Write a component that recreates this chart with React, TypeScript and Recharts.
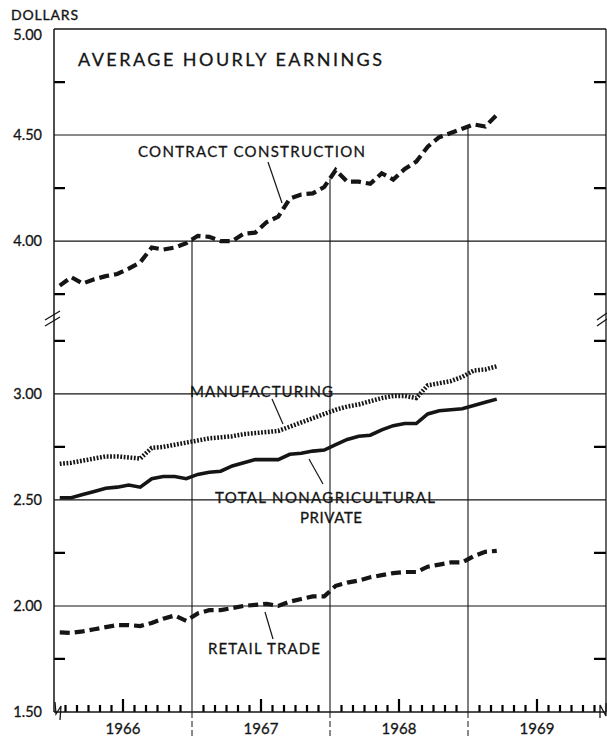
import { LineChart, Line, XAxis, YAxis, ReferenceLine } from "recharts";

// monthly averages, Jan 1966 - Mar 1969
const years = ["1966", "1967", "1968", "1969"];
const monthNames = ["Jan", "Feb", "Mar", "Apr", "May", "Jun", "Jul", "Aug", "Sep", "Oct", "Nov", "Dec"];

const contractConstruction = [
  3.79, 3.83, 3.8, 3.82, 3.835, 3.845, 3.87, 3.9, 3.97, 3.96, 3.97, 3.99,
  4.025, 4.02, 4.0, 4.0, 4.035, 4.04, 4.09, 4.115, 4.2, 4.22, 4.225, 4.255,
  4.335, 4.28, 4.28, 4.27, 4.32, 4.29, 4.34, 4.375, 4.445, 4.49, 4.51, 4.53,
  4.55, 4.54, 4.595,
];
const manufacturing = [
  2.67, 2.675, 2.685, 2.695, 2.705, 2.705, 2.7, 2.695, 2.745, 2.75, 2.76, 2.77,
  2.78, 2.79, 2.795, 2.8, 2.81, 2.815, 2.82, 2.825, 2.845, 2.865, 2.885, 2.905,
  2.925, 2.94, 2.95, 2.965, 2.98, 2.99, 2.99, 2.98, 3.04, 3.05, 3.06, 3.08,
  3.11, 3.115, 3.13,
];
const totalPrivate = [
  2.51, 2.51, 2.525, 2.54, 2.555, 2.56, 2.57, 2.56, 2.6, 2.61, 2.61, 2.6,
  2.62, 2.63, 2.635, 2.66, 2.675, 2.69, 2.69, 2.69, 2.715, 2.72, 2.73, 2.735,
  2.76, 2.785, 2.8, 2.805, 2.83, 2.85, 2.86, 2.86, 2.905, 2.92, 2.925, 2.93,
  2.945, 2.96, 2.975,
];
const retailTrade = [
  1.875, 1.873, 1.88, 1.89, 1.9, 1.91, 1.91, 1.905, 1.92, 1.94, 1.955, 1.93,
  1.965, 1.98, 1.98, 1.99, 2.0, 2.005, 2.01, 2.0, 2.02, 2.033, 2.045, 2.045,
  2.095, 2.11, 2.12, 2.135, 2.145, 2.155, 2.16, 2.16, 2.185, 2.195, 2.205, 2.205,
  2.235, 2.255, 2.26,
];

const majorTicks = [1.5, 2.0, 2.5, 3.0, 4.0, 4.5, 5.0];
const minorTicks = [1.75, 2.25, 2.75, 3.25, 3.75, 4.25, 4.75];

// broken scale: values above the break are pulled down by GAP
const GAP = 0.28;
const toPlot = (v: number) => (v >= 3.5 ? v - GAP : v);
const fromPlot = (p: number) => (p >= 3.36 ? p + GAP : p);

const W = 607;
const H = 736;
const TOP = 29;
const PL = 54;
const PR = 606;
const AXIS_Y = 712;
const FONT = "Lato, 'Noto Sans', sans-serif";
const INK = "#151515";
const NMONTHS = years.length * 12;
const Y_MIN = 1.5;
const Y_MAX = toPlot(5);
// pixel position of an axis value, for the small tick marks only
const yPx = (v: number) => AXIS_Y - ((toPlot(v) - Y_MIN) / (Y_MAX - Y_MIN)) * (AXIS_Y - TOP);
const xPx = (i: number) => PL + (i / NMONTHS) * (PR - PL);

const months = years.flatMap((y) => monthNames.map((m) => `${m} ${y}`)).slice(0, contractConstruction.length);

const data = months.map((m, i) => ({
  month: m,
  pos: i + 0.5,
  contract: toPlot(contractConstruction[i]),
  mfg: toPlot(manufacturing[i]),
  total: toPlot(totalPrivate[i]),
  retail: toPlot(retailTrade[i]),
}));

const yTicks = majorTicks.map(toPlot);
const xTicks = Array.from({ length: NMONTHS + 1 }, (_, i) => i);

const YTick = (props: any) => {
  const { y, payload } = props;
  const real = Math.round(fromPlot(payload.value) * 100) / 100;
  const ty = real === 5 ? y + 11 : y + 5;
  return (
    <text x={42} y={ty} textAnchor="end" fontFamily={FONT} fontSize={14.5} fill={INK} stroke={INK} strokeWidth={0.3}>
      {real.toFixed(2)}
    </text>
  );
};

const XTick = (props: any) => {
  const { x, payload } = props;
  const i = payload.value as number;
  const m = i % 12;
  if (i === 0 || i === NMONTHS) return <g />;
  return (
    <g>
      {m === 0 && (
        <line x1={x} x2={x} y1={AXIS_Y} y2={H} stroke={INK} strokeWidth={1} strokeDasharray="6 3" />
      )}
      {m === 6 && (
        <text x={x} y={734} textAnchor="middle" fontFamily={FONT} fontSize={15} fill={INK} stroke={INK} strokeWidth={0.3}>
          {years[(i - 6) / 12]}
        </text>
      )}
    </g>
  );
};

const Label = ({ x, y, w, children }: { x: number; y: number; w: number; children: string }) => (
  <text x={x} y={y} fontFamily={FONT} fontSize={15} fill={INK} stroke={INK} strokeWidth={0.3} textLength={w} lengthAdjust="spacing">
    {children}
  </text>
);

function Ticks() {
  const monthTicks = xTicks.filter((i) => i > 0 && i < NMONTHS && i % 12 !== 0);
  const d =
    minorTicks.map((v) => `M${PL},${yPx(v)}h11M${PR - 12},${yPx(v)}h12`).join("") +
    monthTicks.map((i) => `M${xPx(i)},${AXIS_Y}v-${i % 12 === 6 ? 13 : 7}`).join("");
  return <path d={d} stroke="#000" strokeWidth={2.2} fill="none" />;
}

function Notes() {
  return (
    <g>
      <rect x={183} y={382} width={155} height={19} fill="#fff" />
      <rect x={204} y={488} width={242} height={18} fill="#fff" />
      <rect x={296} y={508} width={70} height={19} fill="#fff" />
      <text x={11} y={20} fontFamily={FONT} fontSize={14} fill={INK} stroke={INK} strokeWidth={0.35} textLength={67} lengthAdjust="spacing">
        DOLLARS
      </text>
      <text x={78} y={66} fontFamily={FONT} fontSize={18} fill={INK} stroke={INK} strokeWidth={0.3} textLength={304} lengthAdjust="spacing">
        AVERAGE HOURLY EARNINGS
      </text>
      <Label x={138} y={157} w={227}>CONTRACT CONSTRUCTION</Label>
      <Label x={190} y={397} w={143}>MANUFACTURING</Label>
      <Label x={215} y={503} w={220}>TOTAL NONAGRICULTURAL</Label>
      <Label x={300} y={523} w={62}>PRIVATE</Label>
      <Label x={208} y={654} w={112}>RETAIL TRADE</Label>
      <g stroke={INK} strokeWidth={1.2} fill="none">
        <line x1={268} y1={162} x2={282} y2={203} />
        <line x1={272} y1={399} x2={283} y2={424} />
        <line x1={323} y1={484} x2={309} y2={459} />
        <line x1={273} y1={639} x2={265} y2={612} />
      </g>
      {/* scale breaks */}
      <rect x={49} y={313} width={9} height={11} fill="#fff" />
      <rect x={601} y={313} width={6} height={11} fill="#fff" />
      <rect x={54} y={707} width={8} height={8} fill="#fff" />
      <rect x={598} y={707} width={8} height={8} fill="#fff" />
      <g stroke={INK} strokeWidth={1.3} fill="none">
        <line x1={45} y1={320} x2={60} y2={311} />
        <line x1={45} y1={326} x2={60} y2={317} />
        <line x1={597} y1={320} x2={607} y2={313} />
        <line x1={597} y1={326} x2={607} y2={319} />
        <path d="M55,702 L56,714 L61,706 L60,720" />
        <path d="M600,718 L600,705 L606,716 L606,703" />
      </g>
    </g>
  );
}

export default function App() {
  const drops = [12, 24, 36].map((b) => ({
    b,
    top: toPlot((contractConstruction[b - 1] + contractConstruction[b]) / 2),
  }));
  return (
    <div style={{ position: "absolute", left: 0, top: 0, width: W, height: H, background: "#fff" }}>
      <LineChart width={W} height={H} data={data} margin={{ top: TOP, right: W - PR, bottom: 0, left: 0 }}>
        <XAxis
          type="number"
          dataKey="pos"
          domain={[0, NMONTHS]}
          ticks={xTicks}
          interval={0}
          height={H - AXIS_Y}
          axisLine={{ stroke: INK, strokeWidth: 1.5 }}
          tickLine={false}
          tick={<XTick />}
        />
        <YAxis
          type="number"
          domain={[Y_MIN, Y_MAX]}
          ticks={yTicks}
          interval={0}
          width={PL}
          axisLine={false}
          tickLine={false}
          tick={<YTick />}
        />
        <ReferenceLine y={Y_MAX} stroke={INK} strokeWidth={1.3} />
        <ReferenceLine x={0} stroke={INK} strokeWidth={1.5} />
        <ReferenceLine x={NMONTHS} stroke={INK} strokeWidth={1.3} />
        {[4.5, 4.0, 3.0, 2.5, 2.0].map((v) => (
          <ReferenceLine key={v} y={toPlot(v)} stroke={INK} strokeWidth={1.1} />
        ))}
        {drops.map((d) => (
          <ReferenceLine
            key={d.b}
            segment={[
              { x: d.b, y: Y_MIN },
              { x: d.b, y: d.top },
            ]}
            stroke={INK}
            strokeWidth={1.1}
          />
        ))}
        <Notes />
        <Ticks />
        <Line type="linear" dataKey="contract" stroke={INK} strokeWidth={4.2} strokeDasharray="10 5" dot={false} isAnimationActive={false} />
        <Line type="linear" dataKey="mfg" stroke={INK} strokeWidth={4.5} strokeDasharray="1.8 1.6" dot={false} isAnimationActive={false} />
        <Line type="linear" dataKey="total" stroke={INK} strokeWidth={3.6} dot={false} isAnimationActive={false} />
        <Line type="linear" dataKey="retail" stroke={INK} strokeWidth={4.2} strokeDasharray="10 5" dot={false} isAnimationActive={false} />
      </LineChart>
    </div>
  );
}
